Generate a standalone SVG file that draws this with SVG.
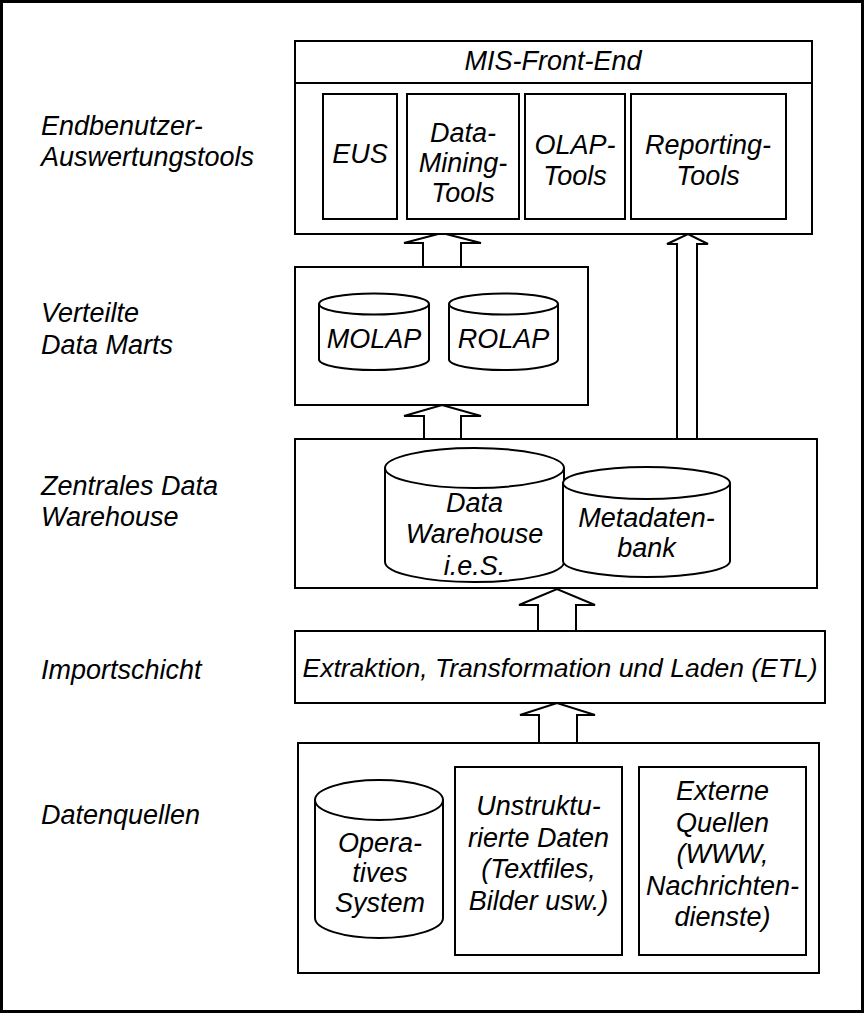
<svg xmlns="http://www.w3.org/2000/svg" width="864" height="1013" viewBox="0 0 864 1013">
<style>
.b{fill:#fff;stroke:#000;stroke-width:2}
.l{fill:none;stroke:#000;stroke-width:2}
.a{fill:#fff;stroke:#000;stroke-width:2;stroke-linejoin:miter}
text{font-family:"Liberation Sans",Arial,Helvetica,sans-serif;font-style:italic;font-size:27px;fill:#000}
.c{text-anchor:middle}
</style>
<rect x="0" y="0" width="864" height="1013" fill="#fff"/>
<rect x="1.5" y="1.5" width="861" height="1010" fill="none" stroke="#000" stroke-width="3"/>

<g id="labels">
<text x="41" y="135">Endbenutzer-</text>
<text x="41" y="166">Auswertungstools</text>
<text x="41" y="322">Verteilte</text>
<text x="41" y="354">Data Marts</text>
<text x="41" y="495">Zentrales Data</text>
<text x="41" y="526">Warehouse</text>
<text x="41" y="679">Importschicht</text>
<text x="41" y="824">Datenquellen</text>
</g>

<g id="connectors">
<path class="a" d="M423,267 V243 H404 L442,233 L481,243 H461 V267"/>
<path class="a" d="M677,439 V244 H667 L688,234 L708,244 H697 V439"/>
<path class="a" d="M424,439 V416 H404 L442,405 L481,416 H461 V439"/>
<path class="a" d="M538,631 V605 H519 L557,589 L595,605 H576 V631"/>
<path class="a" d="M539,743 V715 H520 L557,703 L595,715 H577 V743"/>
</g>

<g id="mis-front-end">
<rect class="b" x="295" y="41" width="517" height="193"/>
<line class="l" x1="295" y1="83" x2="812" y2="83"/>
<text class="c" x="553" y="70">MIS-Front-End</text>
</g>
<g id="eus">
<rect class="b" x="323" y="94" width="74" height="125"/>
<text class="c" x="360" y="163">EUS</text>
</g>
<g id="data-mining-tools">
<rect class="b" x="407" y="94" width="112" height="125"/>
<text class="c" x="463" y="142">Data-</text>
<text class="c" x="463" y="172">Mining-</text>
<text class="c" x="463" y="202">Tools</text>
</g>
<g id="olap-tools">
<rect class="b" x="525" y="94" width="100" height="125"/>
<text class="c" x="575" y="154">OLAP-</text>
<text class="c" x="575" y="185">Tools</text>
</g>
<g id="reporting-tools">
<rect class="b" x="631" y="94" width="155" height="125"/>
<text class="c" x="708" y="154">Reporting-</text>
<text class="c" x="708" y="185">Tools</text>
</g>

<g id="data-marts">
<rect class="b" x="295" y="267" width="293" height="138"/>
</g>
<g id="molap">
<path class="b" d="M319,304 A55,10.5 0 0 1 429,304 V359.5 A55,10.5 0 0 1 319,359.5 Z"/>
<path class="l" d="M319,304 A55,10.5 0 0 0 429,304"/>
<text class="c" x="374" y="348">MOLAP</text>
</g>
<g id="rolap">
<path class="b" d="M449,304 A54.5,10.5 0 0 1 558,304 V359.5 A54.5,10.5 0 0 1 449,359.5 Z"/>
<path class="l" d="M449,304 A54.5,10.5 0 0 0 558,304"/>
<text class="c" x="503.5" y="348">ROLAP</text>
</g>

<g id="zentrales-dw">
<rect class="b" x="295" y="439" width="522" height="149"/>
</g>
<g id="dw-ies">
<path class="b" d="M385,468 A89.5,20 0 0 1 564,468 V562 A89.5,20 0 0 1 385,562 Z"/>
<path class="l" d="M385,468 A89.5,20 0 0 0 564,468"/>
<text class="c" x="474.5" y="512">Data</text>
<text class="c" x="474.5" y="543">Warehouse</text>
<text class="c" x="474.5" y="575">i.e.S.</text>
</g>
<g id="metadatenbank">
<path class="b" d="M563,483 A83.5,16 0 0 1 730,483 V561 A83.5,16 0 0 1 563,561 Z"/>
<path class="l" d="M563,483 A83.5,16 0 0 0 730,483"/>
<text class="c" x="646.5" y="527">Metadaten-</text>
<text class="c" x="646.5" y="557">bank</text>
</g>

<g id="etl">
<rect class="b" x="295" y="631" width="530" height="72"/>
<text class="c" x="560" y="677" style="font-size:26.5px">Extraktion, Transformation und Laden (ETL)</text>
</g>

<g id="datenquellen">
<rect class="b" x="298" y="743" width="521" height="230"/>
</g>
<g id="operatives-system">
<path class="b" d="M315,800 A64,20 0 0 1 443,800 V918 A64,20 0 0 1 315,918 Z"/>
<path class="l" d="M315,800 A64,20 0 0 0 443,800"/>
<text class="c" x="380" y="852">Opera-</text>
<text class="c" x="380" y="882">tives</text>
<text class="c" x="380" y="912">System</text>
</g>
<g id="unstrukturierte-daten">
<rect class="b" x="455" y="767" width="167" height="188"/>
<text class="c" x="538.5" y="815">Unstruktu-</text>
<text class="c" x="538.5" y="847">rierte Daten</text>
<text class="c" x="538.5" y="878">(Textfiles,</text>
<text class="c" x="538.5" y="910">Bilder usw.)</text>
</g>
<g id="externe-quellen">
<rect class="b" x="639" y="767" width="167" height="188"/>
<text class="c" x="722.5" y="800">Externe</text>
<text class="c" x="722.5" y="832">Quellen</text>
<text class="c" x="722.5" y="863">(WWW,</text>
<text class="c" x="722.5" y="895">Nachrichten-</text>
<text class="c" x="722.5" y="926">dienste)</text>
</g>
</svg>
